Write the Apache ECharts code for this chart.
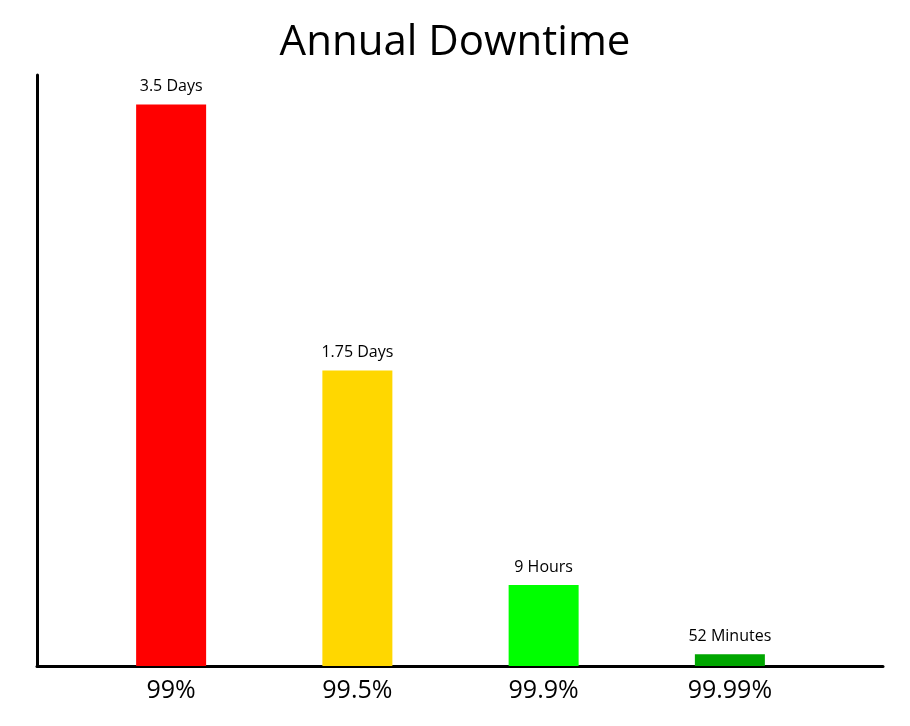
<!DOCTYPE html>
<html>
<head>
<meta charset="utf-8">
<script src="https://cdn.jsdelivr.net/npm/echarts@6/dist/echarts.min.js"></script>
<style>
html,body{margin:0;padding:0;background:#fff;}
#chart{width:910px;height:726px;}
</style>
</head>
<body>
<div id="chart"></div>
<script>
var categories = ['99%', '99.5%', '99.9%', '99.99%'];
var barValues = [95, 50, 13.7, 2];
var barLabels = ['3.5 Days', '1.75 Days', '9 Hours', '52 Minutes'];
var barColors = ['#ff0000', '#ffd700', '#00ff00', '#00a600'];
var titleText = 'Annual Downtime';

var FONT = "'xkcd Script', 'Humor Sans', 'Comic Sans MS', 'Open Sans', sans-serif";

var chart = echarts.init(document.getElementById('chart'));
chart.setOption({
  backgroundColor: '#ffffff',
  animation: false,
  title: {
    text: titleText,
    left: 'center',
    top: 17,
    textStyle: { fontFamily: FONT, fontSize: 42, fontWeight: 'normal', color: '#000' }
  },
  grid: [
    { left: 78, right: 87, top: 75, bottom: 60 },
    { left: 37, right: 27, top: 75, bottom: 60 }
  ],
  xAxis: [
    {
      type: 'category', gridIndex: 0, data: categories,
      axisLine: { show: false }, axisTick: { show: false },
      axisLabel: { fontFamily: FONT, fontSize: 25, color: '#000', margin: 12 }
    },
    {
      type: 'value', gridIndex: 1, min: 0, max: 1,
      axisLine: { show: true, onZero: false, lineStyle: { color: '#000', width: 3 } },
      axisTick: { show: false }, axisLabel: { show: false }, splitLine: { show: false }
    }
  ],
  yAxis: [
    {
      type: 'value', gridIndex: 0, min: 0, max: 100,
      axisLine: { show: false }, axisTick: { show: false },
      axisLabel: { show: false }, splitLine: { show: false }
    },
    {
      type: 'value', gridIndex: 1, min: 0, max: 100,
      axisLine: { show: true, lineStyle: { color: '#000', width: 3 } },
      axisTick: { show: false }, axisLabel: { show: false }, splitLine: { show: false }
    }
  ],
  series: [
    {
      type: 'bar', xAxisIndex: 0, yAxisIndex: 0,
      barWidth: 70,
      data: barValues.map(function (v, i) {
        return { value: v, itemStyle: { color: barColors[i] } };
      }),
      label: {
        show: true, position: 'top', distance: 10,
        fontFamily: FONT, fontSize: 16, color: '#000',
        formatter: function (p) { return barLabels[p.dataIndex]; }
      }
    }
  ]
});
</script>
</body>
</html>
